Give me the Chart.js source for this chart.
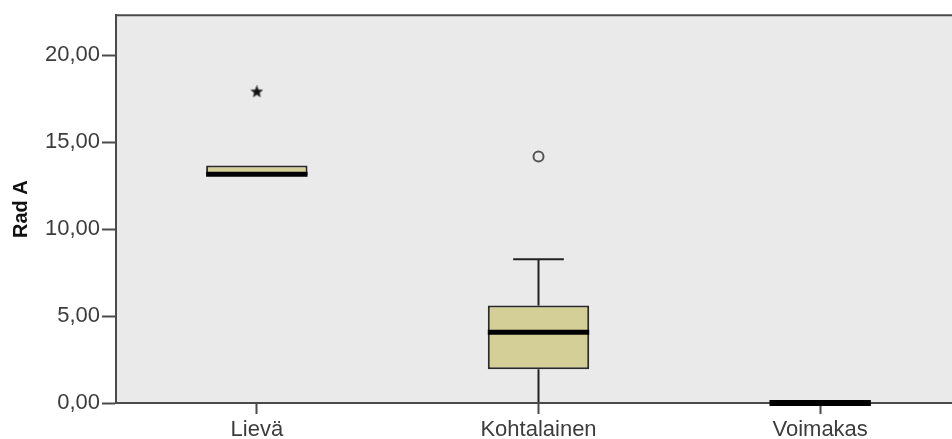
<!DOCTYPE html>
<html><head><meta charset="utf-8">
<script src="https://cdn.jsdelivr.net/npm/chart.js@4/dist/chart.umd.min.js"></script>
<style>
html,body{margin:0;padding:0;background:#fff;overflow:hidden;}
#wrap{width:972px;height:439px;position:relative;}
</style></head><body>
<div id="wrap"><canvas id="c" width="972" height="439"></canvas></div>
<script>
const categories = ['Lievä','Kohtalainen','Voimakas'];
const q1Values = [13.1, 1.94, 0];
const q3Values = [13.66, 5.6, 0];
const medianValues = [13.16, 4.07, 0];
const whiskerLow = [13.1, 0, 0];
const whiskerHigh = [13.66, 8.26, 0];
const outlierValues = [null, 14.17, null];
const extremeValues = [17.89, null, null];
const yTickValues = [0, 5, 10, 15, 20];
const yMax = 22.3;
const axisTitle = 'Rad A';

const FONT = '"Liberation Sans", Arial, sans-serif';
const INK = '#3c3c3c';

// filled five-point star marker
function makeStar(size, color){
  const cv = document.createElement('canvas');
  cv.width = size; cv.height = size;
  const g = cv.getContext('2d');
  const cx = size/2, cy = size/2, R = size/2 - 0.5, r = R*0.45;
  g.beginPath();
  for(let i=0;i<10;i++){
    const ang = -Math.PI/2 + i*Math.PI/5;
    const rad = i%2===0 ? R : r;
    g.lineTo(cx + rad*Math.cos(ang), cy + rad*Math.sin(ang));
  }
  g.closePath();
  g.fillStyle = color; g.fill();
  g.lineWidth = 1; g.strokeStyle = '#555'; g.stroke();
  return cv;
}

const boxPlugin = {
  id: 'boxPlugin',
  beforeDraw(chart){
    const {ctx, chartArea:a, scales:{x, y}} = chart;
    ctx.save();
    ctx.fillStyle = '#EAEAEA';
    ctx.fillRect(a.left, a.top, a.right - a.left, a.bottom - a.top);
    // whiskers (drawn beneath axes and boxes)
    const meta = chart.getDatasetMeta(0);
    ctx.strokeStyle = '#222';
    ctx.lineWidth = 2;
    categories.forEach((c, i) => {
      const bar = meta.data[i];
      const cx = x.getPixelForValue(i);
      const half = bar.width / 2;
      const segs = [[q3Values[i], whiskerHigh[i]], [q1Values[i], whiskerLow[i]]];
      segs.forEach(([from, to]) => {
        if (Math.abs(to - from) < 1e-9) return;
        const p1 = y.getPixelForValue(from), p2 = y.getPixelForValue(to);
        ctx.beginPath(); ctx.moveTo(cx, p1); ctx.lineTo(cx, p2); ctx.stroke();
        ctx.beginPath(); ctx.moveTo(cx - half/2, p2); ctx.lineTo(cx + half/2, p2); ctx.stroke();
      });
    });
    ctx.restore();
  },
  afterDatasetsDraw(chart){
    const {ctx, scales:{x, y}} = chart;
    const meta = chart.getDatasetMeta(0);
    ctx.save();
    categories.forEach((c, i) => {
      const bar = meta.data[i];
      const cx = x.getPixelForValue(i);
      const half = bar.width / 2;
      const my = y.getPixelForValue(medianValues[i]);
      ctx.strokeStyle = '#000';
      ctx.lineWidth = (q3Values[i] - q1Values[i]) < 1e-9 ? 6 : 5;
      ctx.beginPath(); ctx.moveTo(cx - half, my); ctx.lineTo(cx + half, my); ctx.stroke();
    });
    ctx.restore();
  },
  afterDraw(chart){
    const {ctx, chartArea:a} = chart;
    ctx.save();
    ctx.strokeStyle = '#4a4a4a';
    ctx.lineWidth = 2;
    ctx.beginPath(); ctx.moveTo(a.left, a.top); ctx.lineTo(a.right + 20, a.top); ctx.stroke();
    ctx.restore();
  }
};

new Chart(document.getElementById('c'), {
  type: 'bar',
  data: {
    labels: categories,
    datasets: [
      {
        type: 'bar',
        data: categories.map((c, i) => [q1Values[i], q3Values[i]]),
        backgroundColor: '#D3CF97',
        borderColor: '#2a2a2a',
        borderWidth: 2,
        borderSkipped: false,
        categoryPercentage: 1,
        barPercentage: 0.36,
        order: 2
      },
      {
        type: 'line',
        data: outlierValues,
        showLine: false,
        pointStyle: 'circle',
        pointRadius: 5,
        pointBorderWidth: 2,
        pointBorderColor: '#555',
        pointBackgroundColor: 'rgba(0,0,0,0)',
        order: 1
      },
      {
        type: 'line',
        data: extremeValues,
        showLine: false,
        pointStyle: makeStar(13, '#111'),
        order: 1
      }
    ]
  },
  options: {
    responsive: false,
    animation: false,
    events: [],
    layout: { padding: { top: 13, right: 11, left: 0, bottom: 0 } },
    plugins: { legend: { display: false }, tooltip: { enabled: false } },
    scales: {
      x: {
        offset: true,
        grid: { offset: false, drawOnChartArea: false, drawTicks: true, tickLength: 11, tickWidth: 2, tickColor: '#4a4a4a' },
        border: { display: true, color: '#4a4a4a', width: 2 },
        ticks: { color: INK, font: { family: FONT, size: 22 }, padding: 3, maxRotation: 0 },
        afterFit(s){ s.height = 36; }
      },
      y: {
        min: 0, max: yMax,
        afterBuildTicks(s){ s.ticks = yTickValues.map(v => ({ value: v })); },
        grid: { drawOnChartArea: false, drawTicks: true, tickLength: 14, tickWidth: 2, tickColor: '#4a4a4a' },
        border: { display: true, color: '#4a4a4a', width: 2 },
        ticks: { color: INK, font: { family: FONT, size: 22 }, padding: 2,
          callback: v => Number(v).toFixed(2).replace('.', ',') },
        title: { display: true, text: axisTitle, color: '#111', font: { family: FONT, size: 20, weight: 'bold' }, padding: { top: 9, bottom: 0 } },
        afterFit(s){ s.width = 116; }
      }
    }
  },
  plugins: [boxPlugin]
});
</script>
</body></html>
